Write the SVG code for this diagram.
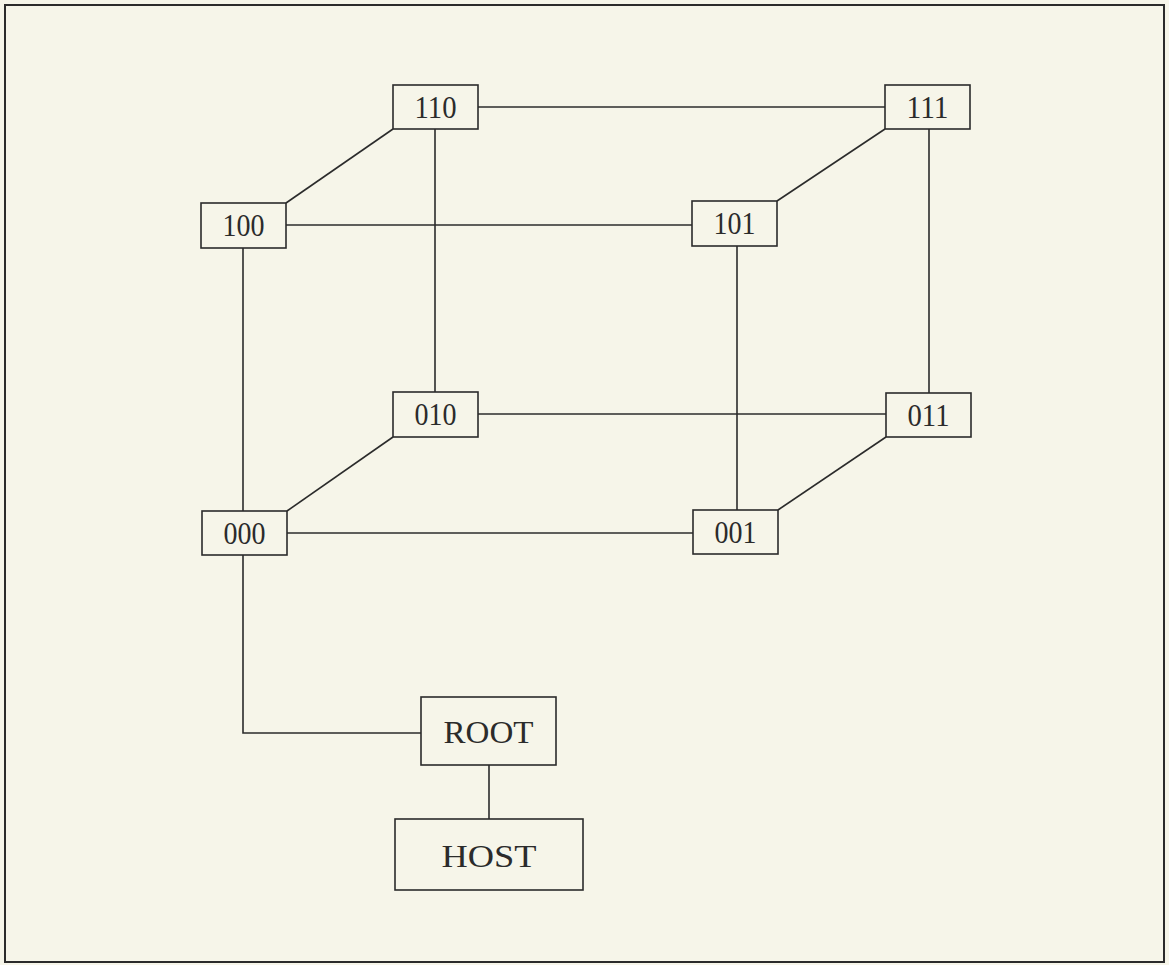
<svg xmlns="http://www.w3.org/2000/svg" width="1169" height="965" viewBox="0 0 1169 965">
<style>
.box{fill:none;stroke:#2b2b2b;stroke-width:1.6}
.ln{stroke:#2b2b2b;stroke-width:1.6;fill:none}
.t{font-family:"Liberation Serif","Times New Roman",serif;font-size:31px;fill:#2b2b2b;text-anchor:middle}
</style>
<rect x="0" y="0" width="1169" height="965" fill="#f6f5e9"/>
<rect x="5" y="5" width="1159" height="957" fill="none" stroke="#2b2b2b" stroke-width="2"/>
<g id="connectors">
<line class="ln" x1="478" y1="107" x2="885" y2="107"/>
<line class="ln" x1="286" y1="225" x2="692" y2="225"/>
<line class="ln" x1="478" y1="414" x2="886" y2="414"/>
<line class="ln" x1="287" y1="533" x2="693" y2="533"/>
<line class="ln" x1="243" y1="248" x2="243" y2="511"/>
<line class="ln" x1="435" y1="129" x2="435" y2="392"/>
<line class="ln" x1="737" y1="246" x2="737" y2="510"/>
<line class="ln" x1="929" y1="129" x2="929" y2="393"/>
<line class="ln" x1="393" y1="129" x2="286" y2="203"/>
<line class="ln" x1="885" y1="129" x2="777" y2="201"/>
<line class="ln" x1="393" y1="437" x2="287" y2="511"/>
<line class="ln" x1="886" y1="437" x2="778" y2="510"/>
<polyline class="ln" points="243,555 243,733 421,733"/>
<line class="ln" x1="489" y1="765" x2="489" y2="819"/>
</g>
<g id="n110"><rect class="box" x="393" y="85" width="85" height="44"/><text class="t" x="435.5" y="118" textLength="42" lengthAdjust="spacingAndGlyphs">110</text></g>
<g id="n111"><rect class="box" x="885" y="85" width="85" height="44"/><text class="t" x="927.5" y="118" textLength="42" lengthAdjust="spacingAndGlyphs">111</text></g>
<g id="n100"><rect class="box" x="201" y="203" width="85" height="45"/><text class="t" x="243.5" y="236" textLength="42" lengthAdjust="spacingAndGlyphs">100</text></g>
<g id="n101"><rect class="box" x="692" y="201" width="85" height="45"/><text class="t" x="734.5" y="234" textLength="42" lengthAdjust="spacingAndGlyphs">101</text></g>
<g id="n010"><rect class="box" x="393" y="392" width="85" height="45"/><text class="t" x="435.5" y="425" textLength="42" lengthAdjust="spacingAndGlyphs">010</text></g>
<g id="n011"><rect class="box" x="886" y="393" width="85" height="44"/><text class="t" x="928.5" y="426" textLength="42" lengthAdjust="spacingAndGlyphs">011</text></g>
<g id="n000"><rect class="box" x="202" y="511" width="85" height="44"/><text class="t" x="244.5" y="544" textLength="42" lengthAdjust="spacingAndGlyphs">000</text></g>
<g id="n001"><rect class="box" x="693" y="510" width="85" height="44"/><text class="t" x="735.5" y="543" textLength="42" lengthAdjust="spacingAndGlyphs">001</text></g>
<g id="root"><rect class="box" x="421" y="697" width="135" height="68"/><text class="t" x="488.5" y="743" textLength="90" lengthAdjust="spacingAndGlyphs">ROOT</text></g>
<g id="host"><rect class="box" x="395" y="819" width="188" height="71"/><text class="t" x="489" y="867" textLength="95" lengthAdjust="spacingAndGlyphs">HOST</text></g>
</svg>
